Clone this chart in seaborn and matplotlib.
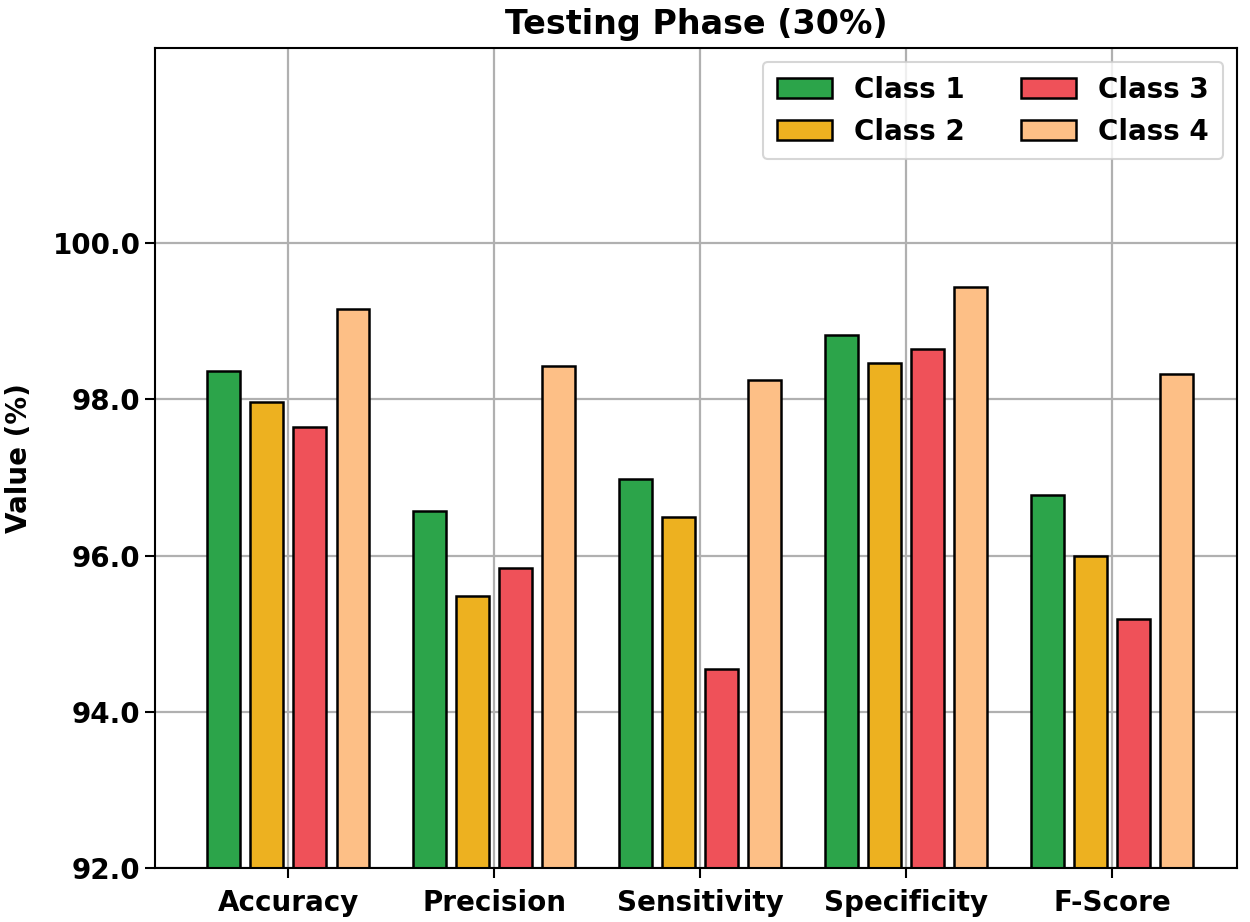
import matplotlib
matplotlib.use("Agg")
import matplotlib.pyplot as plt
import seaborn as sns
import pandas as pd
from matplotlib.ticker import FormatStrFormatter

metrics = ["Accuracy", "Precision", "Sensitivity", "Specificity", "F-Score"]
classes = ["Class 1", "Class 2", "Class 3", "Class 4"]
class1 = [98.36, 96.57, 96.98, 98.82, 96.77]
class2 = [97.97, 95.48, 96.49, 98.46, 96.00]
class3 = [97.64, 95.84, 94.55, 98.64, 95.19]
class4 = [99.16, 98.43, 98.25, 99.44, 98.33]
colors = ["#2ca44a", "#edb120", "#ef5159", "#fdbf86"]
yticks = [92, 94, 96, 98, 100]

rows = []
for cls, vals in zip(classes, [class1, class2, class3, class4]):
    for m, v in zip(metrics, vals):
        rows.append({"Metric": m, "Class": cls, "Value": v})
df = pd.DataFrame(rows)

sns.set_style("white")
plt.rcParams['font.family'] = ['DejaVu Sans']
plt.rcParams['text.color'] = 'black'
plt.rcParams['axes.labelcolor'] = 'black'
plt.rcParams['xtick.color'] = 'black'
plt.rcParams['ytick.color'] = 'black'

fig = plt.figure(figsize=(12.5, 9.22), dpi=100)
ax = fig.add_axes([0.124, 0.0586, 0.8656, 0.8894])

sns.barplot(data=df, x="Metric", y="Value", hue="Class", order=metrics,
            hue_order=classes, palette=colors, saturation=1, width=0.84, gap=0.24,
            edgecolor="black", linewidth=1.8, ax=ax, errorbar=None)

ax.set_axisbelow(True)
ax.xaxis.grid(True, color="#b0b0b0", linewidth=1.6)
ax.yaxis.grid(True, color="#b0b0b0", linewidth=1.6)

ax.set_ylim(92, 102.5)
ax.set_xlim(-0.646, 4.607)
ax.set_yticks(yticks)
ax.yaxis.set_major_formatter(FormatStrFormatter("%.1f"))
ax.set_xlabel("")
ax.set_ylabel("Value (%)", fontsize=20, fontweight="bold", color="black", labelpad=14)
ax.set_title("Testing Phase (30%)", fontsize=24, fontweight="bold", pad=10, color="black")
ax.tick_params(axis="both", labelsize=20, length=7, width=1.5, direction="out",
               bottom=True, left=True, colors="black")
ax.tick_params(axis="x", pad=8)
for lab in ax.get_xticklabels() + ax.get_yticklabels():
    lab.set_fontweight("bold")
for s in ax.spines.values():
    s.set_color("black")
    s.set_linewidth(1.5)

leg = ax.legend(ncol=2, loc="upper right", prop={"weight": "bold", "size": 20},
                frameon=True, fancybox=True, handlelength=2.0, handleheight=0.7,
                columnspacing=2.0, borderpad=0.5)
leg.get_frame().set_edgecolor("#cccccc")
leg.get_frame().set_linewidth(1.5)
for t in leg.get_texts():
    t.set_color("black")

fig.savefig("out.png", dpi=100)
